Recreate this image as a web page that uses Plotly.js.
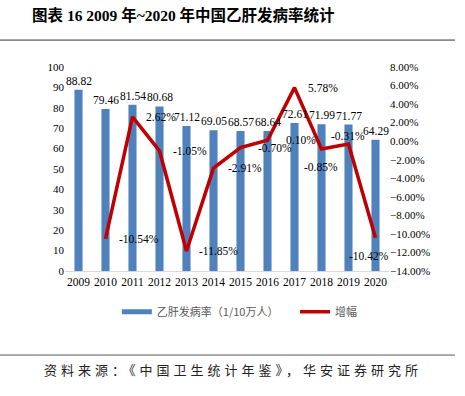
<!DOCTYPE html>
<html><head><meta charset="utf-8">
<script src="https://cdn.plot.ly/plotly-3.0.1.min.js"></script>
<style>html,body{margin:0;padding:0;background:#fff}#c{width:465px;height:396px}</style>
</head><body><div id="c"></div>
<script>
var years = ['2009','2010','2011','2012','2013','2014','2015','2016','2017','2018','2019','2020'];
var incidence = [88.82,79.46,81.54,80.68,71.12,69.05,68.57,68.64,72.61,71.99,71.77,64.29];
var growth = [null,-10.54,2.62,-1.05,-11.85,-2.91,-0.70,0.10,5.78,-0.85,-0.31,-10.42];
var barName = '乙肝发病率（1/10万人）';
var lineName = '增幅';

var serif = 'Liberation Serif, Times New Roman, serif';
var cjk = 'Noto Sans CJK SC, sans-serif';

var annotations = [];
// bar value labels
incidence.forEach(function(v,i){
  annotations.push({x:i, y:v, xref:'x', yref:'y', text:v.toFixed(2), showarrow:false, yanchor:'bottom',
    yshift:1, font:{family:serif,size:11.5,color:'#000'}});
});
// line labels placement (category shift, pixel shifts) as in reference
var labelPlace = [null,[1,6,0],[1,1,0],[1,3,0],[1,5,0],[1,4,0],[1,7,0],[1,6,0],[1,1,0],[0,-1,-18],[0,-1,8],[0,-7,-18]];
growth.forEach(function(v,i){
  if(v===null) return;
  var p = labelPlace[i];
  annotations.push({x:i+p[0], y:v, xref:'x', yref:'y2', text:v.toFixed(2)+'%', showarrow:false,
    xshift:p[1], yshift:p[2], font:{family:serif,size:11.5,color:'#000'}});
});
annotations.push({xref:'paper',yref:'paper',x:-0.108,y:1.255,xanchor:'left',yanchor:'middle',showarrow:false,
  text:'<b>图表 16 2009 年~2020 年中国乙肝发病率统计</b>', font:{family:'Liberation Serif, Noto Sans CJK SC',size:15.5,color:'#000'}});
annotations.push({xref:'paper',yref:'paper',x:0.52,y:-0.485,xanchor:'center',yanchor:'middle',showarrow:false,
  text:'资料来源：《中国卫生统计年鉴》，华安证券研究所', font:{family:cjk,size:13,color:'#222'}});

var data = [
  {type:'bar', x:years, y:incidence, name:barName, marker:{color:'#4F81BD'}, width:0.3,
   showlegend:false, hoverinfo:'none'},
  {type:'scatter', mode:'lines', x:[null], y:[null], name:barName, line:{color:'#4F81BD',width:5}, showlegend:true, legend:'legend'},
  {type:'scatter', mode:'lines', x:years, y:growth, yaxis:'y2', name:lineName, line:{color:'#C00000',width:3.5}, connectgaps:false, legend:'legend2'}
];

var legFont = {family:cjk,size:11,color:'#595959'};
var layout = {
  width:465, height:396, margin:{l:65,r:76,t:67,b:125},
  paper_bgcolor:'#fff', plot_bgcolor:'#fff', bargap:0.7,
  xaxis:{type:'category', showline:true, linecolor:'#d9d9d9', linewidth:1, ticks:'', showgrid:false,
    tickfont:{family:serif,size:11.5,color:'#000'}, range:[-0.5,11.5]},
  yaxis:{range:[0,100], dtick:10, showgrid:false, zeroline:false, showline:false, ticks:'',
    tickfont:{family:serif,size:11,color:'#000'}},
  yaxis2:{overlaying:'y', side:'right', range:[-14,8], dtick:2, tickformat:'.2f', ticksuffix:'%',
    showgrid:false, zeroline:false, showline:false, ticks:'', tickfont:{family:serif,size:11,color:'#000'}},
  legend:{orientation:'h', x:0.16, xanchor:'left', y:-0.2, yanchor:'middle', font:legFont},
  legend2:{orientation:'h', x:0.71, xanchor:'left', y:-0.2, yanchor:'middle', font:legFont},
  annotations:annotations,
  shapes:[
    {type:'line',xref:'paper',yref:'paper',x0:-0.2006,x1:1.2037,y0:1.132,y1:1.132,line:{color:'#333',width:1}},
    {type:'line',xref:'paper',yref:'paper',x0:-0.2006,x1:1.2037,y0:-0.412,y1:-0.412,line:{color:'#555',width:1}}
  ]
};
Plotly.newPlot('c', data, layout, {displayModeBar:false, staticPlot:true}).then(function(gd){
  var texts = gd.querySelectorAll('.annotation-text');
  texts.forEach(function(t){
    if(t.textContent.indexOf('资料来源')===0){ t.style.letterSpacing='4px'; }
  });
});
</script></body></html>
